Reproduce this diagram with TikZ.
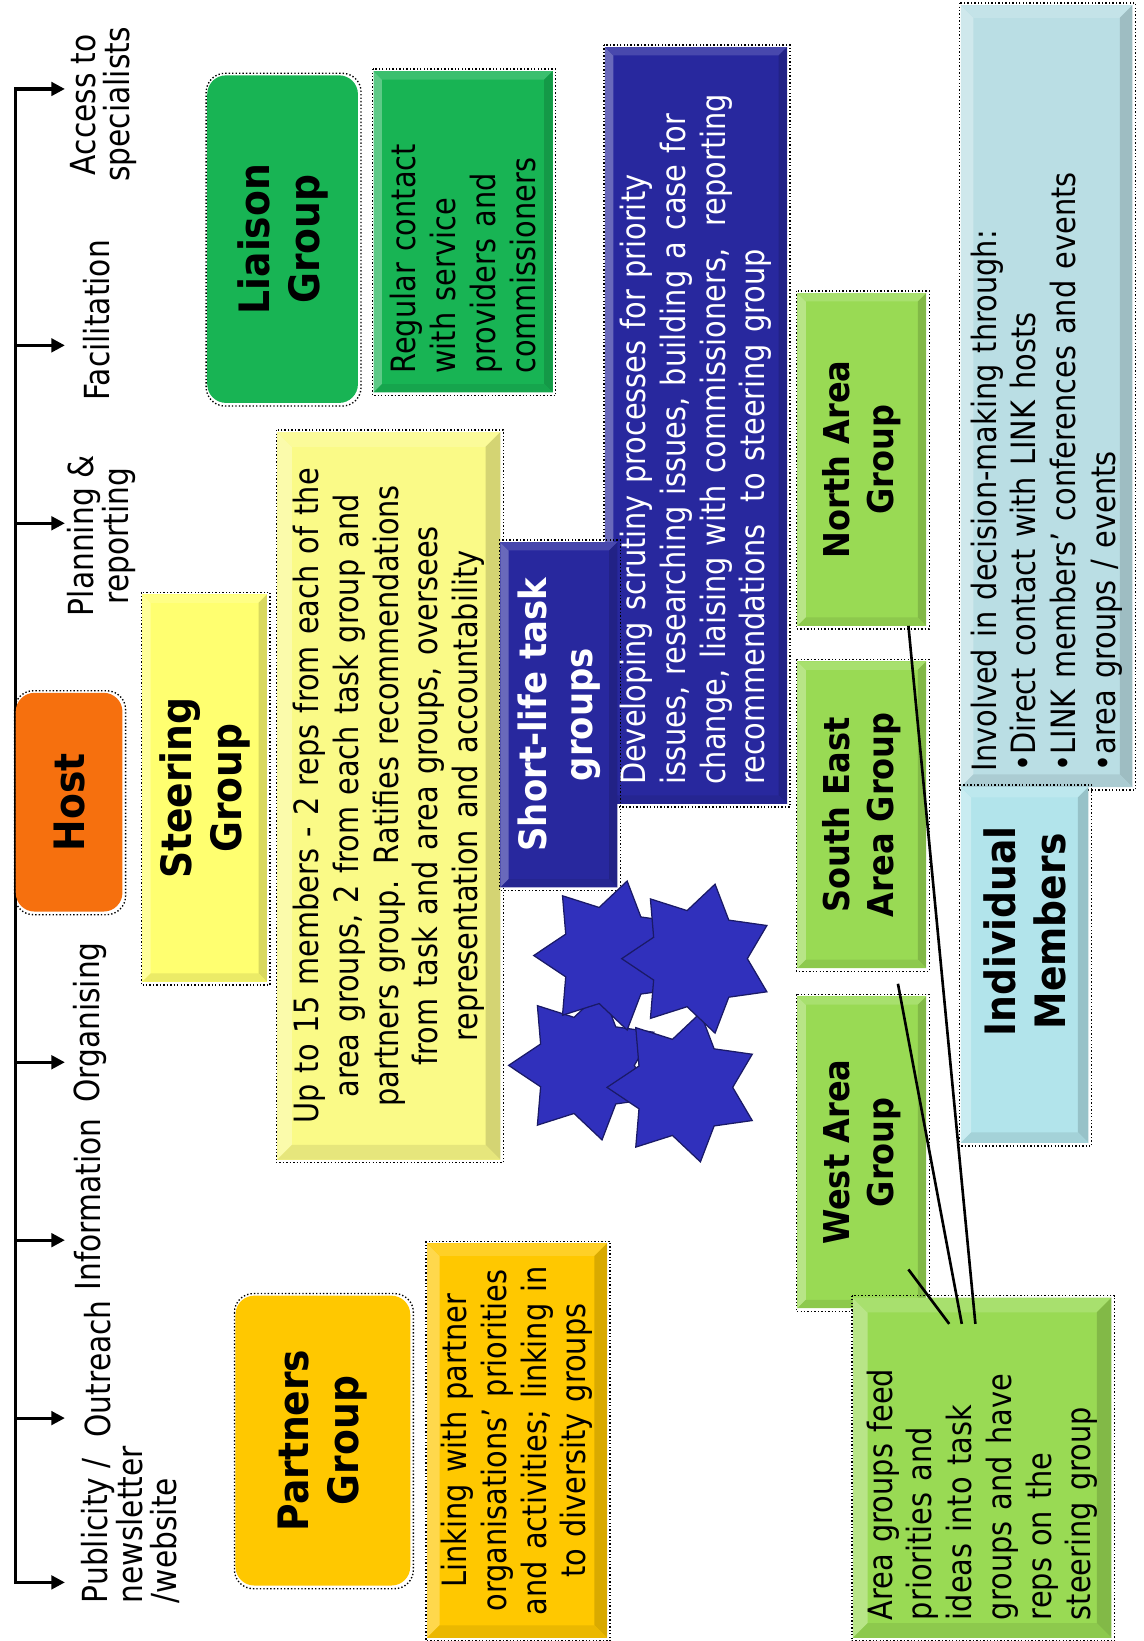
\documentclass[tikz,border=0pt]{standalone}
\usepackage{fontspec}
\setmainfont{DejaVu Sans}[FakeStretch=0.86]
\newfontfamily\tfont{DejaVu Sans}[FakeStretch=0.9]
\usetikzlibrary{shapes.geometric,arrows.meta,calc}
\definecolor{hostor}{RGB}{246,112,14}
\definecolor{steery}{RGB}{255,255,112}
\definecolor{uptoy}{RGB}{250,250,135}
\definecolor{goldp}{RGB}{255,200,0}
\definecolor{greenl}{RGB}{24,180,84}
\definecolor{navyb}{RGB}{40,40,158}
\definecolor{starb}{RGB}{48,48,188}
\definecolor{lgreen}{RGB}{153,218,84}
\definecolor{cyani}{RGB}{178,228,235}
\definecolor{blueinv}{RGB}{186,222,228}
\newcommand\mybev[6]{%
 \fill[#5] (#1,#2) rectangle (#3,#4);
 \fill[#5!70!white] (#1,#2) -- (#1,#4) -- ({#1+#6},{#4-#6}) -- ({#1+#6},{#2+#6}) -- cycle;
 \fill[#5!85!white] (#1,#2) -- (#3,#2) -- ({#3-#6},{#2+#6}) -- ({#1+#6},{#2+#6}) -- cycle;
 \fill[#5!85!black] (#3,#2) -- (#3,#4) -- ({#3-#6},{#4-#6}) -- ({#3-#6},{#2+#6}) -- cycle;
 \fill[#5!92!black] (#1,#4) -- (#3,#4) -- ({#3-#6},{#4-#6}) -- ({#1+#6},{#4-#6}) -- cycle;
 \draw[selframe] ({#1-1},{#2-2}) rectangle ({#3+3},{#4+3});
}
\newcommand\myrbox[5]{%
 \fill[#5, rounded corners=18pt] (#1,#2) rectangle (#3,#4);
 \draw[selframe, rounded corners=18pt] ({#1-1},{#2-2}) rectangle ({#3+3},{#4+3});
}
\newcommand\tnode[7]{%
 \node[rotate=90, inner sep=0pt, minimum width={(#5)-(#3)}, minimum height={(#4)-(#2)}, #6]
   (#1) at ({((#2)+(#4))/2},{((#3)+(#5))/2}) {#7};
}
\begin{document}
\begin{tikzpicture}[x=1pt,y=-1pt,
  selframe/.style={dotted, line width=1.3pt, black},
  axis/.style={line width=3pt, black},
  tip/.style={-{Triangle[length=13pt,width=13pt]}},
  lab/.style={rotate=90, inner sep=0pt, align=center, font=\fontsize{33}{33}\selectfont},
  body/.style={font=\fontsize{32}{38}\selectfont},
  title/.style={align=center, font=\tfont\bfseries\fontsize{40}{48}\selectfont},
  area/.style={align=center, font=\tfont\bfseries\fontsize{34}{42}\selectfont},
  starst/.style={star, star points=7, star point ratio=1.55, minimum size=146pt, inner sep=0pt,
    fill=starb, draw=starb!55!black, line width=1.2pt, rotate=90},
  conn/.style={line width=2.5pt, black}]
\useasboundingbox[fill=white] (0,0) rectangle (1093,1568);

% ---- left axis with branches ----
\coordinate (axT) at (15,85);
\coordinate (axB) at (15,1512);
\coordinate (tAcc) at (62,85);
\coordinate (tPub) at (62,1512);
\draw[axis, {Triangle[length=13pt,width=13pt]}-{Triangle[length=13pt,width=13pt]}]
  (tAcc) -- (axT) -- (axB) -- (tPub);
\foreach \yy/\nm in {330/fac, 500/pla, 1015/org, 1185/inf, 1355/out}{
  \coordinate (b\nm0) at (15,\yy);
  \coordinate (b\nm1) at (62,\yy);
  \draw[axis, tip] (b\nm0) -- (b\nm1);
}
\node[lab] (lAcc) at (99,100) {Access to\\specialists};
\node[lab] (lFac) at (92,306) {Facilitation};
\node[lab] (lPla) at (97,512) {Planning \&\\reporting};
\node[lab] (lOrg) at (86,977) {Organising};
\node[lab] (lInf) at (84,1151) {Information};
\node[lab] (lOut) at (93,1308) {Outreach};
\node[lab, anchor=west, align=left] (lPub) at (125,1532) {Publicity /\\newsletter\\/website};

% ---- boxes ----
\myrbox{15}{662}{117}{871}{hostor}
\mybev{136}{568}{255}{938}{steery}{8}
\mybev{265}{413}{478}{1108}{uptoy}{14}
\myrbox{198}{72}{342}{385}{greenl}
\mybev{357}{68}{528}{375}{greenl}{8}
\myrbox{225}{1238}{392}{1515}{goldp}
\mybev{408}{1188}{580}{1565}{goldp}{12}
\mybev{578}{45}{752}{768}{navyb}{8}
\mybev{478}{518}{590}{848}{navyb}{8}
\mybev{762}{280}{885}{598}{lgreen}{8}
\mybev{762}{632}{885}{925}{lgreen}{8}
\mybev{762}{952}{885}{1250}{lgreen}{8}
\mybev{815}{1240}{1062}{1565}{lgreen}{14}
\mybev{918}{5}{1082}{752}{blueinv}{12}
\mybev{918}{752}{1040}{1092}{cyani}{10}

% ---- stars ----
\node[starst] (st3) at (559,1018) {};
\node[starst] (st4) at (653,1039) {};
\node[starst] (st1) at (583,913) {};
\node[starst] (st2) at (667,916) {};

% ---- texts ----
\tnode{host}{15}{662}{117}{871}{title}{Host}
\tnode{steer}{136}{568}{255}{938}{title}{Steering\\Group}
\tnode{upto}{265}{413}{478}{1108}{body, align=center, text width=690pt}{Up to 15 members - 2 reps from each of the\\area groups, 2 from each task group and\\partners group. Ratifies recommendations\\from task and area groups, oversees\\representation and accountability}
\tnode{liaison}{198}{72}{342}{385}{title}{Liaison\\Group}
\tnode{regular}{357}{68}{528}{375}{body, align=left, text width=271pt}{Regular contact\\with service\\providers and\\commissioners}
\tnode{partners}{225}{1238}{392}{1515}{title}{Partners\\Group}
\tnode{linking}{408}{1188}{580}{1565}{body, align=center, text width=370pt}{Linking with partner\\organisations’ priorities\\and activities; linking in\\to diversity groups}
\tnode{short}{478}{518}{590}{848}{title, text=white, font=\tfont\bfseries\fontsize{36}{44}\selectfont}{Short-life task\\groups}
\tnode{develop}{578}{45}{752}{768}{body, text=white, align=left, text width=687pt}{Developing scrutiny processes for priority\\issues, researching issues, building a case for\\change, liaising with commissioners,~ reporting\\recommendations~ to steering group}
\tnode{north}{762}{280}{885}{598}{area}{North Area\\Group}
\tnode{se}{762}{632}{885}{925}{area}{South East\\Area Group}
\tnode{west}{762}{952}{885}{1250}{area}{West Area\\Group}
\tnode{feed}{815}{1240}{1062}{1565}{body, align=left, text width=291pt}{Area groups feed\\priorities and\\ideas into task\\groups and have\\reps on the\\steering group}
\tnode{indiv}{918}{720}{1040}{1060}{title}{Individual\\Members}
\tnode{involved}{918}{5}{1082}{752}{body, align=left, text width=717pt}{Involved in decision-making through:\\•Direct contact with LINK hosts\\•LINK members’ conferences and events\\•area groups / events}

% ---- connectors ----
\coordinate (cN0) at (868,598);
\coordinate (cN1) at (932,1265);
\coordinate (cS0) at (858,940);
\coordinate (cS1) at (919,1265);
\coordinate (cW0) at (868,1213);
\coordinate (cW1) at (907,1265);
\draw[conn] (cN0) -- (cN1);
\draw[conn] (cS0) -- (cS1);
\draw[conn] (cW0) -- (cW1);
\end{tikzpicture}
\end{document}
